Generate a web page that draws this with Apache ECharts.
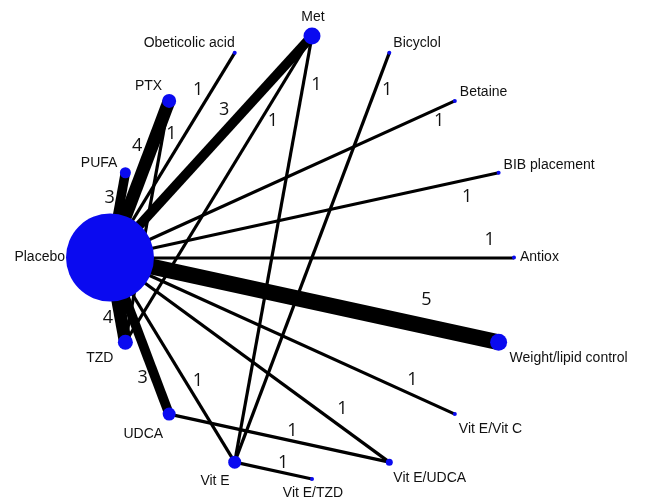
<!DOCTYPE html>
<html>
<head>
<meta charset="utf-8">
<script src="https://cdn.jsdelivr.net/npm/echarts@6/dist/echarts.min.js"></script>
<style>
  html, body { margin: 0; background: #fff; }
  #chart { width: 652px; height: 504px; }
</style>
</head>
<body>
<div id="chart"></div>
<script>
// treatments, clockwise from Placebo (left) round the ring
const treatments = [
  'Placebo', 'PUFA', 'PTX', 'Obeticolic acid', 'Met', 'Bicyclol', 'Betaine', 'BIB placement',
  'Antiox', 'Weight/lipid control', 'Vit E/Vit C', 'Vit E/UDCA', 'Vit E/TZD', 'Vit E', 'UDCA', 'TZD',
]
// node weight (marker diameter)
const nodeWeight = [88, 11, 14, 4, 17, 4, 4, 4, 4, 17, 4, 7, 4, 13, 13, 15]

// direct comparisons: from, to, number of trials
const edgeFrom = [
  'Placebo', 'Placebo', 'Placebo', 'Placebo', 'Placebo', 'Placebo', 'Placebo', 'Placebo', 'Placebo', 'Placebo',
  'Placebo', 'Placebo', 'Placebo', 'PTX', 'TZD', 'Met', 'Bicyclol', 'UDCA', 'Vit E',
]
const edgeTo = [
  'PUFA', 'PTX', 'Obeticolic acid', 'Met', 'Betaine', 'BIB placement', 'Antiox', 'Weight/lipid control', 'Vit E/Vit C', 'Vit E/UDCA',
  'Vit E', 'UDCA', 'TZD', 'TZD', 'Met', 'Vit E', 'Vit E', 'Vit E/UDCA', 'Vit E/TZD',
]
const edgeTrials = [3, 4, 1, 3, 1, 1, 1, 5, 1, 1, 1, 3, 4, 1, 1, 1, 1, 1, 1]

// --- layout only below ---
// ring is a slightly tall ellipse
const ringRx = 202
const ringRy = 221.5
// trial-count label: fraction along the edge, px off the edge (+ = left of from->to)
const edgeLabelAt = [0.68, 0.68, 0.79, 0.62, 0.94, 0.91, 0.94, 0.8, 0.86, 0.8, 0.63, 0.74, 0.69, 0.13, 0.74, 0.11, 0.08, 0.55, 0.6]
const edgeLabelSide = [11, 14, 12, 15, -12, -17, 18, 26, 14, 15, 11, -12, -13, 8, -11, 13, 11, 10, 10]

// node label: [dx, dy] from node centre, horizontal align
const nodeLabelOffset = [
  [-45, 0], [-8, -10], [-7, -15], [0, -10], [1, -19], [4, -10], [5, -9], [5, -8],
  [6, 0], [11, 16], [4, 15], [4, 16], [1, 14], [-5, 19], [-6, 20], [-12, 16],
]
const nodeLabelAlign = [
  'right', 'right', 'right', 'right', 'center', 'left', 'left', 'left',
  'left', 'left', 'left', 'left', 'center', 'right', 'right', 'right',
]

const n = treatments.length
const nodes = treatments.map((name, i) => {
  const a = Math.PI - (i * 2 * Math.PI) / n
  return {
    name,
    x: Math.round(ringRx * Math.cos(a) * 100) / 100,
    y: Math.round(-ringRy * Math.sin(a) * 100) / 100,
    symbolSize: nodeWeight[i],
    label: {
      show: true,
      position: ['50%', '50%'],
      offset: nodeLabelOffset[i],
      align: nodeLabelAlign[i],
      verticalAlign: 'middle',
    },
  }
})

const links = edgeFrom.map((s, i) => ({
  source: s,
  target: edgeTo[i],
  value: edgeTrials[i],
  lineStyle: { width: 3.2 * edgeTrials[i] },
}))

const chart = echarts.init(document.getElementById('chart'), null, { renderer: 'canvas' })

chart.setOption({
  animation: false,
  backgroundColor: '#fff',
  series: [
    {
      type: 'graph',
      layout: 'none',
      left: 110,
      top: 36,
      width: 2 * ringRx,
      height: 2 * ringRy,
      roam: false,
      symbol: 'circle',
      itemStyle: { color: '#0a0af0' },
      label: { color: '#111', fontFamily: '"Liberation Sans", Arial, sans-serif', fontSize: 14 },
      lineStyle: { color: '#000', opacity: 1, curveness: 0 },
      emphasis: { disabled: true },
      data: nodes,
      links,
    },
  ],
})

// trial counts placed along each edge
const px = (name) => {
  const nd = nodes[treatments.indexOf(name)]
  const p = chart.convertToPixel({ seriesIndex: 0 }, [nd.x, nd.y])
  return p || [110 + ringRx + nd.x, 36 + ringRy + nd.y]
}
const texts = edgeFrom.map((s, i) => {
  const a = px(s)
  const b = px(edgeTo[i])
  const dx = b[0] - a[0]
  const dy = b[1] - a[1]
  const len = Math.hypot(dx, dy)
  const t = edgeLabelAt[i]
  const d = edgeLabelSide[i]
  return {
    type: 'text',
    x: a[0] + dx * t + (dy / len) * d,
    y: a[1] + dy * t - (dx / len) * d,
    z: 100,
    style: {
      text: String(edgeTrials[i]),
      font: '18px "Open Sans", sans-serif',
      fill: '#111',
      align: 'center',
      verticalAlign: 'middle',
    },
  }
})
chart.setOption({ graphic: { elements: texts } })
</script>
</body>
</html>
